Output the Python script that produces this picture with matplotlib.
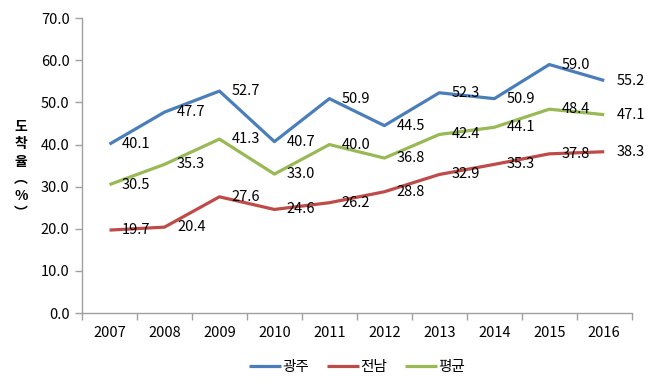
import matplotlib.pyplot as plt
import numpy as np

plt.rcParams['font.family'] = ['Noto Sans CJK KR', 'DejaVu Sans']

years = ['2007', '2008', '2009', '2010', '2011', '2012', '2013', '2014', '2015', '2016']
gwangju = [40.1, 47.7, 52.7, 40.7, 50.9, 44.5, 52.3, 50.9, 59.0, 55.2]
jeonnam = [19.7, 20.4, 27.6, 24.6, 26.2, 28.8, 32.9, 35.3, 37.8, 38.3]
average = [30.5, 35.3, 41.3, 33.0, 40.0, 36.8, 42.4, 44.1, 48.4, 47.1]
names = ['광주', '전남', '평균']
colors = ['#4A7EBB', '#BE4B48', '#98B954']

fig = plt.figure(figsize=(6.56, 3.87), dpi=100)
ax = fig.add_axes([0.125, 0.191, 0.838, 0.762])

x = np.arange(len(years))
for vals, name, c in zip([gwangju, jeonnam, average], names, colors):
    ax.plot(x, vals, color=c, lw=2.3, label=name, solid_capstyle='butt')
    for xi, v in zip(x, vals):
        ax.annotate(f'{v:.1f}', (xi, v), xytext=(9, 0), textcoords='offset points',
                    ha='left', va='center', fontsize=10.5, color='#000000')

ax.set_xlim(-0.5, len(years) - 0.5)
ax.set_ylim(0, 70)
ax.set_yticks(np.arange(0, 71, 10))
ax.set_yticklabels([f'{v:.1f}' for v in np.arange(0, 71, 10)], fontsize=10.5)
ax.set_xticks(x)
ax.set_xticklabels(years, fontsize=10.5)
ax.set_xticks(np.arange(-0.5, len(years)), minor=True)
ax.tick_params(axis='x', which='major', length=0, pad=9)
ax.tick_params(axis='x', which='minor', length=5, color='#A0A0A0', width=1)
ax.tick_params(axis='y', length=5, color='#A0A0A0', width=1, pad=4)

for s in ['top', 'right']:
    ax.spines[s].set_visible(False)
for s in ['left', 'bottom']:
    ax.spines[s].set_color('#A0A0A0')
    ax.spines[s].set_linewidth(1)

fig.text(0.032, 0.56, '도\n착\n율\n︵\n%\n︶', ha='center', va='center',
         fontsize=10, fontweight='bold', linespacing=1.3)

ax.legend(loc='upper center', bbox_to_anchor=(0.5, -0.115), ncol=3, frameon=False,
          fontsize=10.5, handlelength=2.2, handletextpad=0.1, columnspacing=1.2)

fig.savefig('out.png', dpi=100)
